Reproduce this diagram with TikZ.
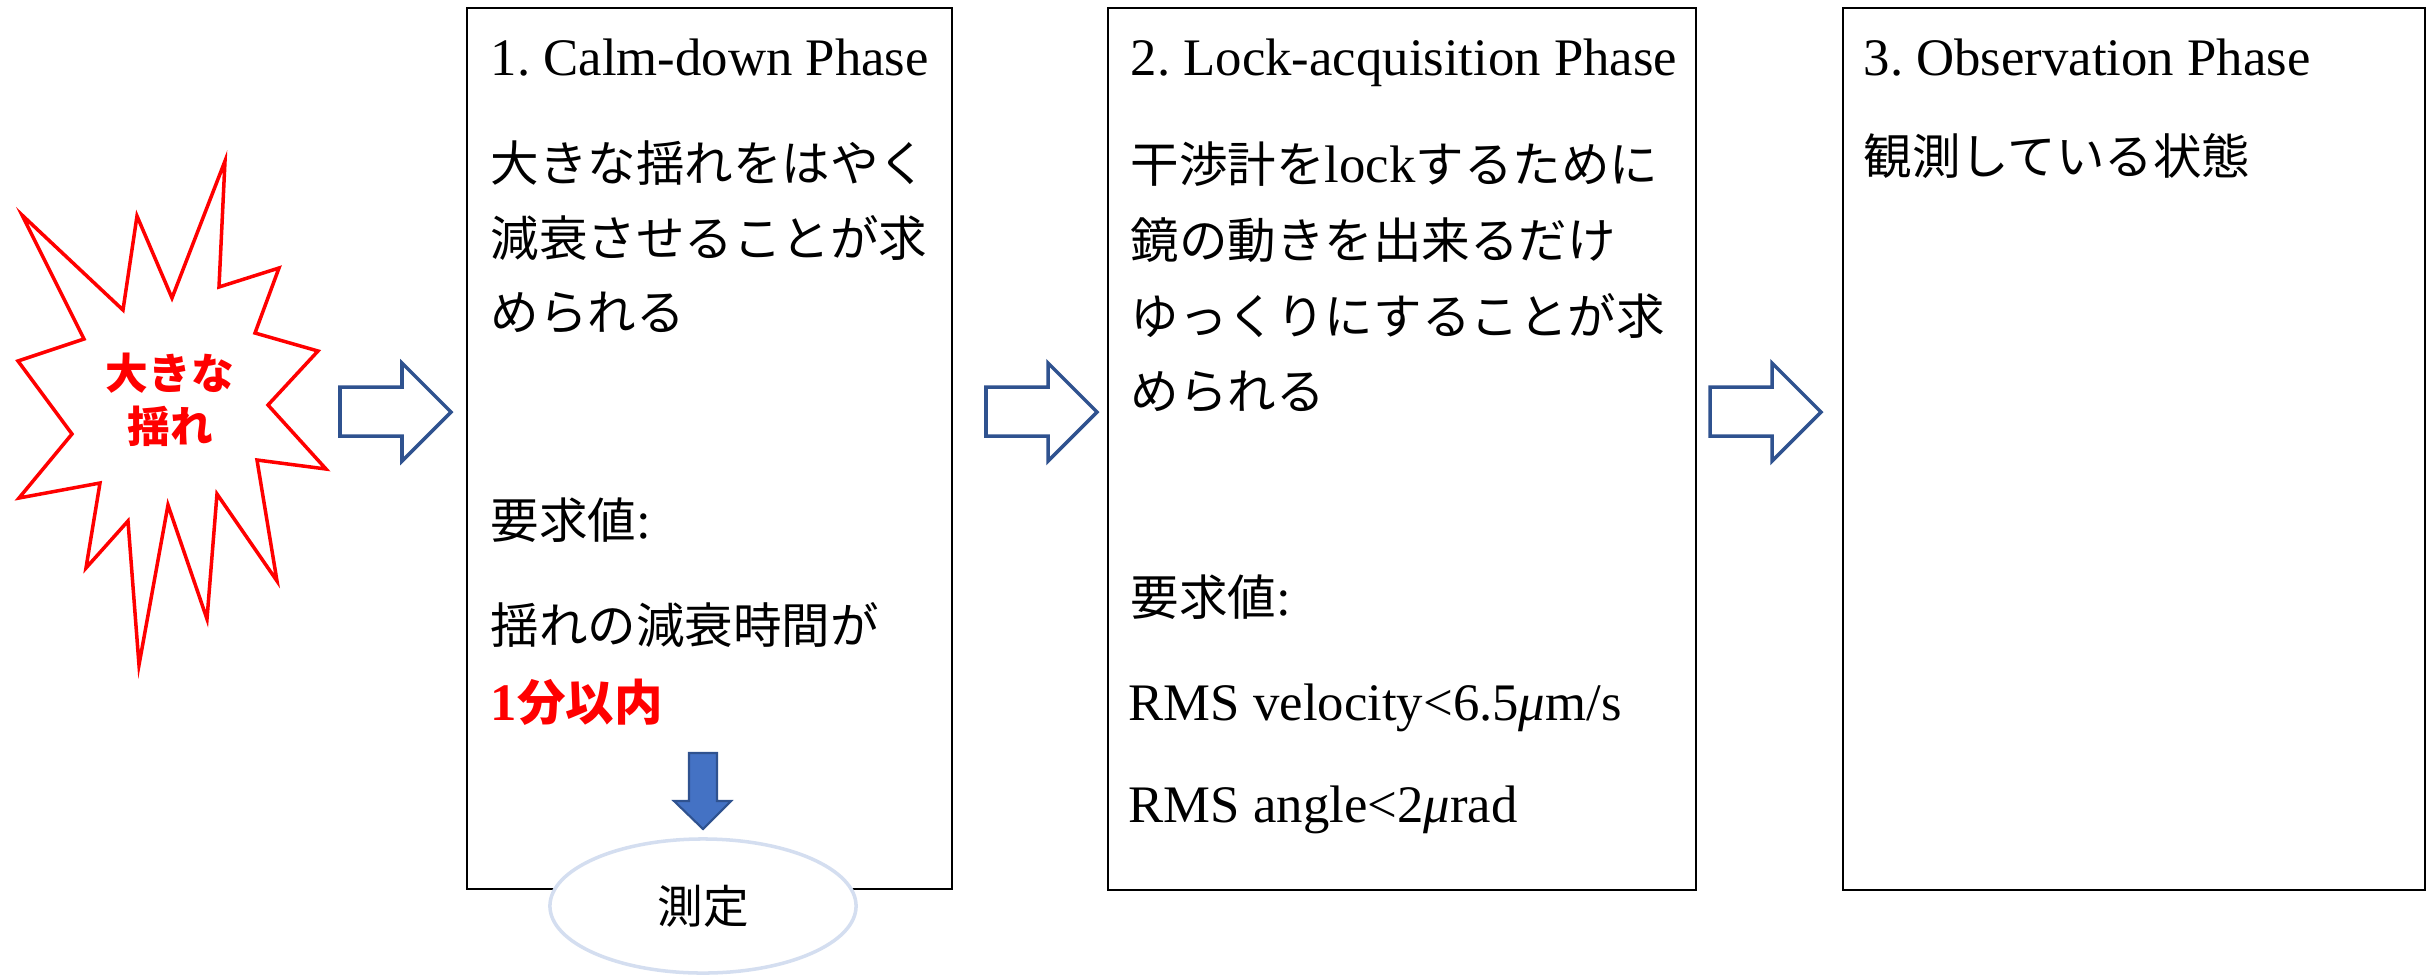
\documentclass[tikz,border=0pt]{standalone}
\usepackage{fontspec}
\setmainfont{Liberation Serif}
\newfontfamily\jp[Scale=0.92]{Noto Sans CJK JP}
\usepackage{tikz}
\usetikzlibrary{shapes.geometric}
\frenchspacing

\definecolor{shakered}{RGB}{255,0,0}
\definecolor{arrowblue}{RGB}{47,82,143}
\definecolor{fillblue}{RGB}{68,114,196}
\definecolor{ovalblue}{RGB}{212,222,240}

\tikzset{
	phase/.style={draw=black, line width=0.8pt},
	txt/.style={anchor=west, inner sep=0pt, font=\fontsize{15}{18}\selectfont},
	title/.style={txt, anchor=base west},
	hollow/.style={draw=arrowblue, fill=white, line width=1pt, line join=miter},
}

% block arrow pointing right, #1 = x of its tail
\newcommand{\rightblock}[1]{%
	\draw[hollow] (#1,387) -- ++(62,0) -- ++(0,-24) -- ++(49,49) -- ++(-49,49)
		-- ++(0,-25) -- ++(-62,0) -- cycle;
}

\begin{document}
\begin{tikzpicture}[x=0.01cm, y=-0.01cm]

	\useasboundingbox (0,0) rectangle (2432,975);

	% the three phases
	\draw[phase] (467,8) rectangle (952,889);
	\draw[phase] (1108,8) rectangle (1696,890);
	\draw[phase] (1843,8) rectangle (2425,890);

	% big shake
	\draw[shakered, line width=1pt, line join=miter] (22,215) -- (123,310) -- (137,216) -- (172,298)
		-- (225,161) -- (219,287) -- (279,268) -- (255,333) -- (318,351) -- (268,405)
		-- (326,469) -- (257,460) -- (277,581) -- (217,494) -- (207,619) -- (168,505)
		-- (139,665) -- (128,521) -- (86,568) -- (100,483) -- (19,498) -- (72,434)
		-- (18,361) -- (84,339) -- cycle;
	\node (shake) at (170,400) [align=center, text=shakered, inner sep=0pt,
		font=\fontsize{13.2}{15}\selectfont\jp\bfseries] {大きな\\揺れ};

	\rightblock{340}
	\rightblock{986}
	\rightblock{1710}

	% phase 1
	\node[title] (p1) at (490,75) {1. Calm-down Phase};
	\node[txt] (p1a) at (490,163) {\jp 大きな揺れをはやく};
	\node[txt] (p1b) at (490,238) {\jp 減衰させることが求};
	\node[txt] (p1c) at (490,313) {\jp められる};
	\node[txt] (p1d) at (490,520) {{\jp 要求値}:};
	\node[txt] (p1e) at (490,625) {\jp 揺れの減衰時間が};
	\node[txt, text=shakered] (p1f) at (490,702) {\bfseries 1{\jp 分以内}};

	\draw[fill=fillblue, draw=arrowblue, line width=0.6pt, line join=miter] (689,753) -- (717,753)
		-- (717,801) -- (731,801) -- (703,829) -- (674,801) -- (689,801) -- cycle;
	\node (measure) at (703,906) [ellipse, draw=ovalblue, fill=white, line width=1pt,
		minimum width=3.06cm, minimum height=1.34cm, inner sep=0pt,
		font=\fontsize{14.1}{16}\selectfont\jp] {測定};

	% phase 2
	\node[title] (p2) at (1130,75) {2. Lock-acquisition Phase};
	\node[txt] (p2a) at (1130,164) {{\jp 干渉計を}lock{\jp するために}};
	\node[txt] (p2b) at (1130,240) {\jp 鏡の動きを出来るだけ};
	\node[txt] (p2c) at (1130,316) {\jp ゆっくりにすることが求};
	\node[txt] (p2d) at (1130,392) {\jp められる};
	\node[txt] (p2e) at (1130,597) {{\jp 要求値}:};
	\node[title] (p2f) at (1128,720) {RMS velocity<6.5\textit{μ}m/s};
	\node[title] (p2g) at (1128,822) {RMS angle<2\textit{μ}rad};

	% phase 3
	\node[title] (p3) at (1863,75) {3. Observation Phase};
	\node[txt] (p3a) at (1863,156) {\jp 観測している状態};

\end{tikzpicture}
\end{document}
